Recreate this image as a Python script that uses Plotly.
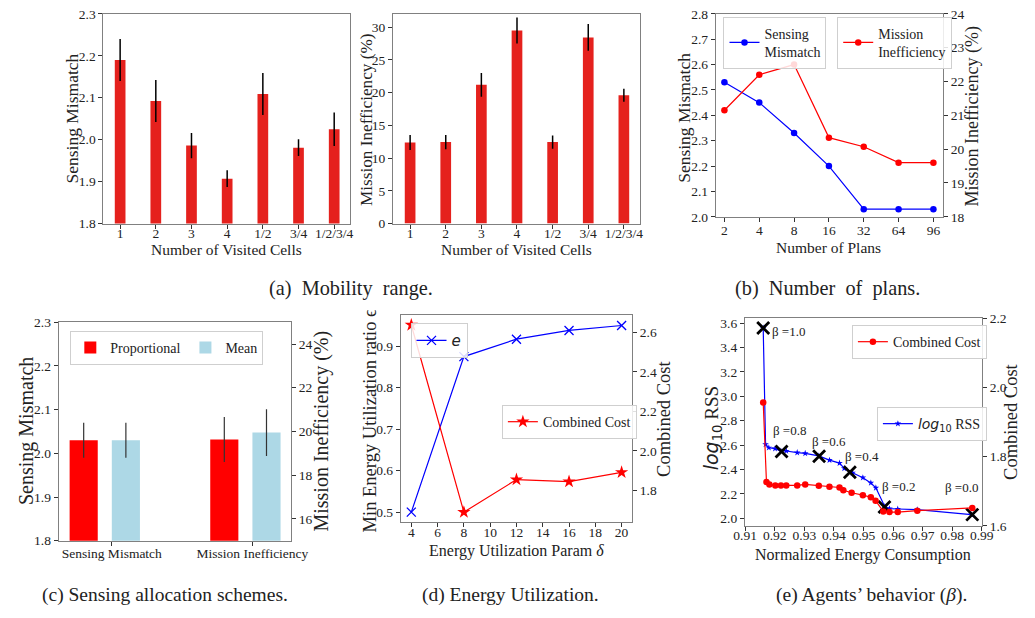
import plotly.graph_objects as go

W, H = 1035, 618
FONT = "Liberation Serif"

# ---------------- data ----------------
# (a) Mobility range
cells = ["1", "2", "3", "4", "1/2", "3/4", "1/2/3/4"]
a_mismatch = [2.19, 2.092, 1.986, 1.907, 2.109, 1.981, 2.025]
a_mismatch_err = [0.05, 0.05, 0.03, 0.02, 0.05, 0.02, 0.04]
a_ineff = [12.4, 12.45, 21.2, 29.5, 12.45, 28.45, 19.6]
a_ineff_err = [1.15, 1.1, 1.8, 2.0, 1.0, 2.05, 1.0]

# (b) Number of plans
plans = ["2", "4", "8", "16", "32", "64", "96"]
b_mismatch = [2.53, 2.45, 2.33, 2.20, 2.03, 2.03, 2.03]
b_ineff = [21.15, 22.2, 22.5, 20.34, 20.07, 19.6, 19.6]

# (c) Sensing allocation schemes
c_categories = ["Sensing Mismatch", "Mission Inefficiency"]
c_positions = [0, 1]
c_prop = [2.03, 19.63]
c_prop_err = [0.04, 1.03]
c_mean = [2.03, 19.95]
c_mean_err = [0.04, 1.07]

# (d) Energy utilization
delta = [4, 8, 12, 16, 20]
d_e = [0.5, 0.875, 0.917, 0.938, 0.950]
d_cost = [2.638, 1.689, 1.854, 1.844, 1.891]

# (e) Agents' behaviour
e_energy_rss = [0.9161, 0.9169, 0.9180, 0.9201, 0.9221, 0.9239, 0.9276, 0.9303,
                0.9349, 0.9385, 0.9419, 0.9435, 0.9463, 0.9498, 0.9525, 0.9542,
                0.9572, 0.9588, 0.9616, 0.9682, 0.9865]
e_rss = [3.560, 2.605, 2.578, 2.570, 2.551, 2.551, 2.538, 2.532,
         2.511, 2.476, 2.452, 2.409, 2.372, 2.332, 2.289, 2.249,
         2.096, 2.078, 2.075, 2.070, 2.029]
e_energy_cost = [0.9161, 0.9172, 0.9182, 0.9202, 0.9221, 0.9239, 0.9276, 0.9303,
                 0.9349, 0.9385, 0.9419, 0.9432, 0.9460, 0.9498, 0.9525, 0.9541,
                 0.9567, 0.9588, 0.9616, 0.9682, 0.9868]
e_cost = [1.957, 1.727, 1.720, 1.717, 1.717, 1.717, 1.717, 1.720,
          1.716, 1.713, 1.711, 1.703, 1.696, 1.689, 1.683, 1.673,
          1.642, 1.640, 1.640, 1.644, 1.652]
beta_labels = ["β =1.0", "β =0.8", "β =0.6", "β =0.4", "β =0.2", "β =0.0"]
beta_energy = [0.9161, 0.9223, 0.9350, 0.9454, 0.9571, 0.9868]
beta_rss = [3.560, 2.546, 2.508, 2.377, 2.091, 2.029]

captions = ["(a)  Mobility  range.", "(b)  Number  of  plans.",
            "(c) Sensing allocation schemes.", "(d) Energy Utilization.",
            "(e) Agents’ behavior (<i>β</i>)."]

# ---------------- helpers ----------------
def fx(p):
    return p / W

def fy(p):
    return 1 - p / H

RED_BAR = "#e5211d"
BLUE = "#0000ff"
RED = "#ff0000"
SERIF = "Liberation Serif, Times New Roman, serif"

base_axis = dict(showline=True, linecolor="#808080", linewidth=1, ticks="outside",
                 ticklen=4, tickcolor="#333", tickwidth=1, showgrid=False,
                 zeroline=False)

fig = go.Figure()

# ---- (a) left
fig.add_trace(go.Bar(x=cells, y=a_mismatch, width=0.3, marker=dict(color=RED_BAR, line=dict(width=0)),
                     error_y=dict(type="data", array=a_mismatch_err, color="black", thickness=1.5, width=0),
                     xaxis="x", yaxis="y", showlegend=False))
# ---- (a) right
fig.add_trace(go.Bar(x=cells, y=a_ineff, width=0.3, marker=dict(color=RED_BAR, line=dict(width=0)),
                     error_y=dict(type="data", array=a_ineff_err, color="black", thickness=1.5, width=0),
                     xaxis="x2", yaxis="y2", showlegend=False))

# ---- (b)
fig.add_trace(go.Scatter(x=plans, y=b_mismatch, mode="lines+markers", name="Sensing<br>Mismatch",
                         line=dict(color=BLUE, width=1.2), marker=dict(size=6.5, color=BLUE),
                         xaxis="x3", yaxis="y3", legend="legend"))
fig.add_trace(go.Scatter(x=plans, y=b_ineff, mode="lines+markers", name="Mission<br>Inefficiency",
                         line=dict(color=RED, width=1.2), marker=dict(size=6.5, color=RED),
                         xaxis="x3", yaxis="y4", legend="legend2"))

# ---- (c)
fig.add_trace(go.Bar(x=c_positions[:1], y=c_prop[:1], width=0.2, offset=-0.3, name="Proportional",
                     marker=dict(color=RED, line=dict(width=0)),
                     error_y=dict(type="data", array=c_prop_err[:1], color="#333", thickness=1.2, width=0),
                     xaxis="x4", yaxis="y5", legend="legend3", legendgroup="prop"))
fig.add_trace(go.Bar(x=c_positions[:1], y=c_mean[:1], width=0.2, offset=0.0, name="Mean",
                     marker=dict(color="#add8e6", line=dict(width=0)),
                     error_y=dict(type="data", array=c_mean_err[:1], color="#333", thickness=1.2, width=0),
                     xaxis="x4", yaxis="y5", legend="legend3", legendgroup="mean"))
fig.add_trace(go.Bar(x=c_positions[1:], y=c_prop[1:], width=0.2, offset=-0.3, name="Proportional",
                     marker=dict(color=RED, line=dict(width=0)),
                     error_y=dict(type="data", array=c_prop_err[1:], color="#333", thickness=1.2, width=0),
                     xaxis="x4", yaxis="y6", showlegend=False, legendgroup="prop"))
fig.add_trace(go.Bar(x=c_positions[1:], y=c_mean[1:], width=0.2, offset=0.0, name="Mean",
                     marker=dict(color="#add8e6", line=dict(width=0)),
                     error_y=dict(type="data", array=c_mean_err[1:], color="#333", thickness=1.2, width=0),
                     xaxis="x4", yaxis="y6", showlegend=False, legendgroup="mean"))

# ---- (d)
fig.add_trace(go.Scatter(x=delta, y=d_e, mode="lines+markers", name="<i>e</i>",
                         line=dict(color=BLUE, width=1.2),
                         marker=dict(symbol="x-thin-open", size=9, color=BLUE, line=dict(color=BLUE, width=1.3)),
                         xaxis="x5", yaxis="y7", legend="legend4"))
fig.add_trace(go.Scatter(x=delta, y=d_cost, mode="lines+markers", name="Combined Cost",
                         line=dict(color=RED, width=1.2),
                         marker=dict(symbol="star", size=10, color=RED),
                         xaxis="x5", yaxis="y8", legend="legend5"))

# ---- (e)
fig.add_trace(go.Scatter(x=e_energy_rss, y=e_rss, mode="lines+markers",
                         name='<span style="font-family:DejaVu Sans"><i>log</i><sub>10</sub></span> RSS',
                         line=dict(color=BLUE, width=1.2),
                         marker=dict(symbol="star", size=5, color=BLUE),
                         xaxis="x6", yaxis="y9", legend="legend7"))
fig.add_trace(go.Scatter(x=e_energy_cost, y=e_cost, mode="lines+markers", name="Combined Cost",
                         line=dict(color=RED, width=1.2),
                         marker=dict(symbol="circle", size=6.5, color=RED),
                         xaxis="x6", yaxis="y10", legend="legend6"))
fig.add_trace(go.Scatter(x=beta_energy, y=beta_rss, mode="markers",
                         marker=dict(symbol="x-thin-open", size=12, color="black", line=dict(color="black", width=2.8)),
                         xaxis="x6", yaxis="y9", showlegend=False))

# ---------------- axes ----------------
layout = dict(
    width=W, height=H, margin=dict(l=0, r=0, t=0, b=0),
    paper_bgcolor="white", plot_bgcolor="white", barmode="overlay", showlegend=True,
    font=dict(family=SERIF, color="#222", size=13),
)

# (a) left
layout["xaxis"] = dict(base_axis, ticklabelstandoff=-7, domain=[fx(94), fx(348)], anchor="y",
                       type="category", range=[-0.47, 6.45], mirror=True)
layout["yaxis"] = dict(base_axis, domain=[fy(222), fy(7)], anchor="x", range=[1.8, 2.3],
                       dtick=0.1, tickformat=".1f", mirror=True)
# (a) right
layout["xaxis2"] = dict(base_axis, ticklabelstandoff=-7, domain=[fx(392), fx(646)], anchor="y2",
                        type="category", range=[-0.48, 6.45], mirror=True)
layout["yaxis2"] = dict(base_axis, domain=[fy(222), fy(7)], anchor="x2", range=[0, 32.05],
                        dtick=5, mirror=True)
# (b)
layout["xaxis3"] = dict(base_axis, ticklabelstandoff=-3, domain=[fx(724), fx(958)], anchor="y3",
                        type="category", range=[-0.25, 6.28], mirror=True)
layout["yaxis3"] = dict(base_axis, domain=[fy(215), fy(7)], anchor="x3", range=[2.0, 2.8],
                        dtick=0.1, tickformat=".1f", mirror=True)
layout["yaxis4"] = dict(base_axis, overlaying="y3", anchor="x3", side="right", range=[18, 24],
                        dtick=1)
# (c)
layout["xaxis4"] = dict(base_axis, ticklabelstandoff=-4, domain=[fx(48), fx(287)], anchor="y5",
                        range=[-0.378, 1.274], tickvals=c_positions, ticktext=c_categories, mirror=True)
layout["yaxis5"] = dict(base_axis, domain=[fy(547), fy(323)], anchor="x4", range=[1.8, 2.3],
                        dtick=0.1, tickformat=".1f", mirror=True)
layout["yaxis6"] = dict(base_axis, overlaying="y5", anchor="x4", side="right", range=[15, 25],
                        tickvals=[16, 18, 20, 22, 24])
# (d)
layout["xaxis5"] = dict(base_axis, ticklabelstandoff=-6, domain=[fx(400), fx(638)], anchor="y7",
                        range=[3.2, 20.8], dtick=2, mirror=True)
layout["yaxis7"] = dict(base_axis, domain=[fy(528), fy(316)], anchor="x5", range=[0.4757, 0.9745],
                        dtick=0.1, tickformat=".1f", mirror=True)
layout["yaxis8"] = dict(base_axis, overlaying="y7", anchor="x5", side="right", range=[1.638, 2.687],
                        tickvals=[1.8, 2.0, 2.2, 2.4, 2.6], tickformat=".1f")
# (e)
layout["xaxis6"] = dict(base_axis, ticklabelstandoff=-7, domain=[fx(754), fx(998)], anchor="y9",
                        range=[0.9099, 0.9901],
                        tickvals=[0.91, 0.92, 0.93, 0.94, 0.95, 0.96, 0.97, 0.98, 0.99],
                        tickformat=".2f", mirror=True)
layout["yaxis9"] = dict(base_axis, domain=[fy(532), fy(319)], anchor="x6", range=[1.935, 3.64],
                        tickvals=[2.0, 2.2, 2.4, 2.6, 2.8, 3.0, 3.2, 3.4, 3.6], tickformat=".1f", mirror=True)
layout["yaxis10"] = dict(base_axis, overlaying="y9", anchor="x6", side="right", range=[1.5995, 2.2005],
                         tickvals=[1.6, 1.8, 2.0, 2.2], tickformat=".1f")

# ---------------- legends ----------------
leg_style = dict(bgcolor="rgba(255,255,255,0.85)", bordercolor="#cfcfcf", borderwidth=1,
                 font=dict(family=SERIF, size=14, color="#222"), xanchor="left", yanchor="top",
                 tracegroupgap=0)
layout["legend"] = dict(leg_style, x=fx(732), y=fy(10))
layout["legend2"] = dict(leg_style, x=fx(849), y=fy(10))
layout["legend3"] = dict(leg_style, x=fx(60), y=fy(332), orientation="h")
layout["legend4"] = dict(leg_style, x=fx(410), y=fy(324),
                         font=dict(family="DejaVu Sans", size=15, color="#222"))
layout["legend5"] = dict(leg_style, x=fx(504), y=fy(408))
layout["legend6"] = dict(leg_style, x=fx(1003), y=fy(326), xanchor="right")
layout["legend7"] = dict(leg_style, x=fx(1003), y=fy(410), xanchor="right")

fig.update_layout(**layout)
fig.update_xaxes(tickfont=dict(family=SERIF, size=13.5, color="#222"))
fig.update_yaxes(tickfont=dict(family=SERIF, size=13.5, color="#222"))

# ---------------- titles & annotations ----------------
def title(text, cx, cy, size, angle=0):
    fig.add_annotation(text=text, x=fx(cx), y=fy(cy), xref="paper", yref="paper",
                       showarrow=False, textangle=angle, xanchor="center", yanchor="middle",
                       font=dict(family=SERIF, size=size, color="#222"))

title("Sensing Mismatch", 62, 114, 17.5, -90)
title("Number of Visited Cells", 221, 249, 15.5)
title("Mission Inefficiency (%)", 364, 116, 17.2, -90)
title("Number of Visited Cells", 519, 249, 15.5)
title("Sensing Mismatch", 692, 114, 17.5, -90)
title("Mission Inefficiency (%)", 988, 112, 18, -90)
title("Number of Plans", 840, 246, 15.5)
title("Sensing Mismatch", 15, 435, 20, -90)
title("Mission Inefficiency (%)", 318, 435, 20, -90)
title("Min Energy Utilization ratio ϵ", 368, 424, 18.5, -90)
title("Combined Cost", 671, 422, 18.5, -90)
title("Energy Utilization Param <i>δ</i>", 519, 558, 16)
title('<span style="font-family:DejaVu Sans"><i>log</i><sub>10</sub></span> RSS', 721, 432, 19, -90)
title("Combined Cost", 1027, 425, 18.5, -90)
title("Normalized Energy Consumption", 876, 562, 16)

cap_pos = [(349, 288), (839, 288), (157, 603), (513, 603), (884, 603)]
cap_size = [20.3, 20.3, 19.5, 19.5, 19.5]
for txt, (cx, cy), sz in zip(captions, cap_pos, cap_size):
    title(txt, cx, cy, sz)

beta_shift = [(7, -3, "left"), (8, 21, "center"), (10, 15, "center"),
              (12, 16, "center"), (14, 21, "center"), (-11, 27, "center")]
for lab, bx, by, (dx, dy, anc) in zip(beta_labels, beta_energy, beta_rss, beta_shift):
    fig.add_annotation(text=lab, x=bx, y=by, xref="x6", yref="y9", showarrow=False,
                       xshift=dx, yshift=dy, xanchor=anc, yanchor="middle",
                       font=dict(family=SERIF, size=13, color="#222"))

fig.write_html("out.html", config={"displayModeBar": False},
               post_script="document.body.style.margin='0px';document.body.style.overflow='hidden';")
